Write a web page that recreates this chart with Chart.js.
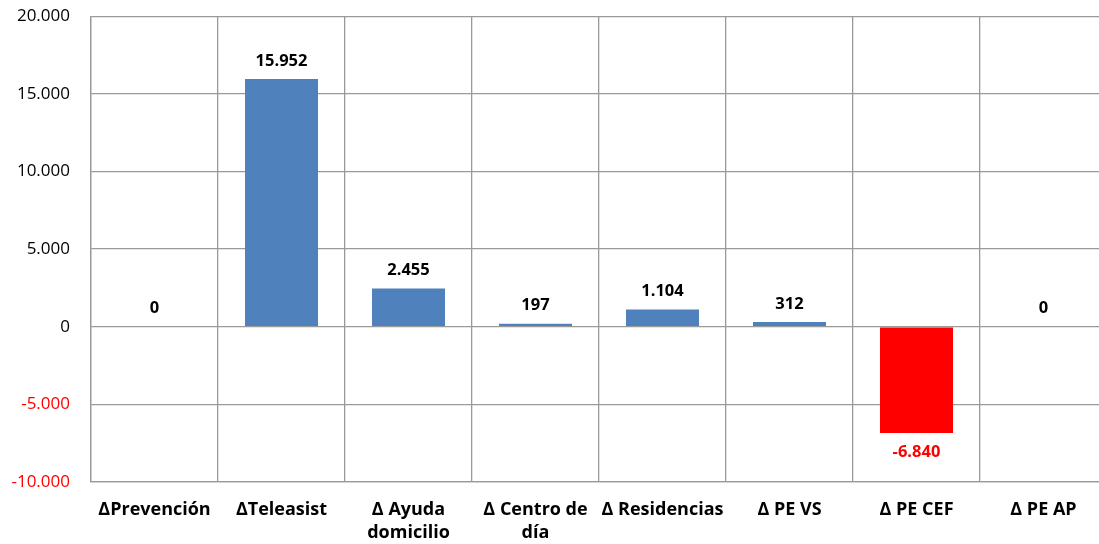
<!DOCTYPE html>
<html>
<head>
<meta charset="utf-8">
<script src="https://cdn.jsdelivr.net/npm/chart.js@4/dist/chart.umd.min.js"></script>
<style>
html,body{margin:0;padding:0;background:#fff;overflow:hidden;}
#wrap{width:1099px;height:544px;overflow:hidden;position:relative;}
canvas{display:block;margin-top:-15px;}
</style>
</head>
<body>
<div id="wrap"><canvas id="c" width="1110" height="559"></canvas></div>
<script>
const categories = ['ΔPrevención', 'ΔTeleasist', ['Δ Ayuda', 'domicilio'], ['Δ Centro de', 'día'], 'Δ Residencias', 'Δ PE VS', 'Δ PE CEF', 'Δ PE AP'];
const values = [0, 15952, 2455, 197, 1104, 312, -6840, 0];
const yTicks = [-10000, -5000, 0, 5000, 10000, 15000, 20000];

const POS = '#4F81BD', NEG = '#FF0000';
const FONT = "'Open Sans'";
const fmt = v => {
  const s = Math.abs(v).toString().replace(/\B(?=(\d{3})+(?!\d))/g, '.');
  return (v < 0 ? '-' : '') + s;
};

const labelPlugin = {
  id: 'valueLabels',
  afterDatasetsDraw(chart) {
    const ctx = chart.ctx;
    const meta = chart.getDatasetMeta(0);
    const y0 = chart.scales.y.getPixelForValue(0);
    ctx.save();
    ctx.font = "bold 16.5px " + FONT;
    ctx.textAlign = 'center';
    ctx.textBaseline = 'middle';
    meta.data.forEach((bar, i) => {
      const v = values[i];
      ctx.fillStyle = v < 0 ? NEG : '#000';
      const y = v < 0 ? bar.y + 19 : Math.min(bar.y, y0) - 18;
      ctx.fillText(fmt(v), bar.x, y);
    });
    ctx.restore();
  }
};

new Chart(document.getElementById('c'), {
  type: 'bar',
  data: {
    labels: categories,
    datasets: [{
      data: values,
      backgroundColor: values.map(v => v < 0 ? NEG : POS),
      borderWidth: 0,
      categoryPercentage: 1,
      barPercentage: 0.575
    }]
  },
  options: {
    responsive: false,
    animation: false,
    events: [],
    layout: { padding: { top: 0, right: 3, left: 0, bottom: 0 } },
    plugins: { legend: { display: false }, tooltip: { enabled: false } },
    scales: {
      x: {
        grid: { color: '#9a9a9a', lineWidth: 1.3, offset: true, drawTicks: false },
        border: { color: '#9a9a9a', width: 1.3 },
        ticks: {
          color: '#000',
          font: { family: FONT, size: 18, weight: 'bold', lineHeight: 1.28 },
          padding: 16,
          maxRotation: 0,
          autoSkip: false
        },
        afterFit: s => { s.height = 62; }
      },
      y: {
        min: -10000,
        max: 20000,
        afterBuildTicks: s => { s.ticks = yTicks.map(v => ({ value: v })); },
        grid: { color: '#9a9a9a', lineWidth: 1.3, drawTicks: false },
        border: { color: '#9a9a9a', width: 1.3 },
        ticks: {
          color: ctx => ctx.tick.value < 0 ? NEG : '#000',
          font: { family: FONT, size: 17 },
          padding: 21,
          callback: v => fmt(v)
        },
        afterFit: s => { s.width = 91; }
      }
    }
  },
  plugins: [labelPlugin]
});
</script>
</body>
</html>
